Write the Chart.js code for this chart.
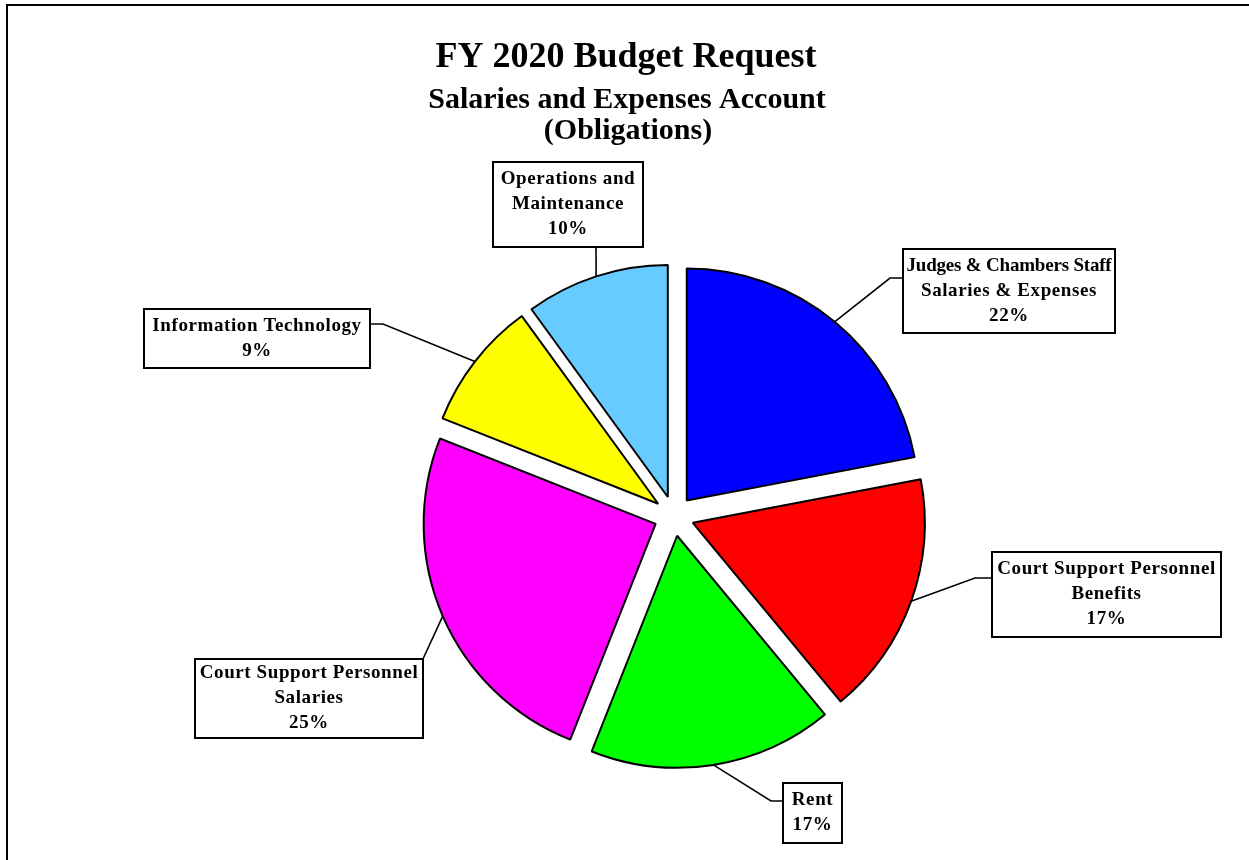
<!DOCTYPE html>
<html>
<head>
<meta charset="utf-8">
<title>FY 2020 Budget Request</title>
<script src="https://cdn.jsdelivr.net/npm/chart.js@4.4.1/dist/chart.umd.min.js"></script>
<style>
  html, body { margin: 0; padding: 0; background: #fff; }
  #wrap { width: 1249px; height: 860px; }
</style>
</head>
<body>
<div id="wrap"><canvas id="budgetChart" width="1249" height="860"></canvas></div>
<script>
// chart data
const titleLines = ["FY 2020 Budget Request", "Salaries and Expenses Account", "(Obligations)"];
const categories = [
    "Judges & Chambers Staff Salaries & Expenses",
    "Court Support Personnel Benefits",
    "Rent",
    "Court Support Personnel Salaries",
    "Information Technology",
    "Operations and Maintenance"
];
const labelLines = [
    ["Judges & Chambers Staff", "Salaries & Expenses"],
    ["Court Support Personnel", "Benefits"],
    ["Rent"],
    ["Court Support Personnel", "Salaries"],
    ["Information Technology"],
    ["Operations and", "Maintenance"]
];
const percentValues = [22, 17, 17, 25, 9, 10];
const sliceColors = ["#0000FF", "#FF0000", "#00FF00", "#FF00FF", "#FFFF00", "#66CCFF"];

// layout of the label boxes (one per slice, same order)
const labelBoxes = [
    { x: 903, y: 249, w: 212, h: 84, attach: [903, 278], elbow: [890, 278] },
    { x: 992, y: 552, w: 229, h: 85, attach: [992, 578], elbow: [975, 578] },
    { x: 783, y: 783, w: 59, h: 60, attach: [783, 801], elbow: [771, 801] },
    { x: 195, y: 659, w: 228, h: 79, attach: [423, 659], elbow: null },
    { x: 144, y: 309, w: 226, h: 59, attach: [370, 324], elbow: [383, 324] },
    { x: 493, y: 162, w: 150, h: 85, attach: [596, 247], elbow: null }
];

const SERIF = '"Liberation Serif", "Times New Roman", serif';
const EXPLODE = 20;

// move every slice out from the centre along its middle angle
const explodePlugin = {
    id: 'explode',
    beforeDatasetsDraw(chart) {
        const area = chart.chartArea;
        const cx = (area.left + area.right) / 2;
        const cy = (area.top + area.bottom) / 2;
        chart.getDatasetMeta(0).data.forEach((arc) => {
            const mid = (arc.startAngle + arc.endAngle) / 2;
            arc.x = cx + Math.cos(mid) * EXPLODE;
            arc.y = cy + Math.sin(mid) * EXPLODE;
        });
    }
};

const framePlugin = {
    id: 'frame',
    beforeDraw(chart) {
        const ctx = chart.ctx;
        ctx.save();
        ctx.fillStyle = '#fff';
        ctx.fillRect(0, 0, chart.width, chart.height);

        ctx.strokeStyle = '#000';
        ctx.lineWidth = 2;
        ctx.beginPath();
        ctx.moveTo(7, chart.height);
        ctx.lineTo(7, 5);
        ctx.lineTo(chart.width, 5);
        ctx.stroke();

        ctx.fillStyle = '#000';
        ctx.textAlign = 'center';
        ctx.textBaseline = 'alphabetic';
        ctx.font = 'bold 36px ' + SERIF;
        ctx.fillText(titleLines[0], 626, 67);
        ctx.font = 'bold 30px ' + SERIF;
        ctx.fillText(titleLines[1], 627, 108);
        ctx.fillText(titleLines[2], 628, 139);
        ctx.restore();
    }
};

const labelPlugin = {
    id: 'sliceLabels',
    afterDraw(chart) {
        const ctx = chart.ctx;
        const arcs = chart.getDatasetMeta(0).data;
        ctx.save();
        arcs.forEach((arc, i) => {
            const box = labelBoxes[i];
            const mid = (arc.startAngle + arc.endAngle) / 2;
            const ax = arc.x + Math.cos(mid) * arc.outerRadius;
            const ay = arc.y + Math.sin(mid) * arc.outerRadius;

            // leader line
            ctx.strokeStyle = '#000';
            ctx.lineWidth = 1.6;
            ctx.beginPath();
            ctx.moveTo(ax, ay);
            if (box.elbow) ctx.lineTo(box.elbow[0], box.elbow[1]);
            ctx.lineTo(box.attach[0], box.attach[1]);
            ctx.stroke();

            // box
            ctx.fillStyle = '#fff';
            ctx.fillRect(box.x, box.y, box.w, box.h);
            ctx.lineWidth = 2;
            ctx.strokeRect(box.x, box.y, box.w, box.h);

            // text, letter spacing tightened when a line is wider than the box
            const lines = labelLines[i].concat([percentValues[i] + '%']);
            const lineH = 25;
            const cx = box.x + box.w / 2;
            const cy = box.y + box.h / 2;
            ctx.fillStyle = '#000';
            ctx.textAlign = 'center';
            ctx.textBaseline = 'middle';
            ctx.font = 'bold 19px ' + SERIF;
            lines.forEach((t, j) => {
                let spacing = 0.6;
                ctx.letterSpacing = spacing + 'px';
                while (ctx.measureText(t).width > box.w - 5 && spacing > -0.8) {
                    spacing -= 0.1;
                    ctx.letterSpacing = spacing.toFixed(1) + 'px';
                }
                ctx.fillText(t, cx, cy - (lines.length - 1) * lineH / 2 + j * lineH);
            });
            ctx.letterSpacing = '0px';
        });
        ctx.restore();
    }
};

new Chart(document.getElementById('budgetChart'), {
    type: 'pie',
    data: {
        labels: categories,
        datasets: [{
            data: percentValues,
            backgroundColor: sliceColors,
            borderColor: '#000',
            borderWidth: 2,
            offset: 0,
            hoverOffset: 0
        }]
    },
    options: {
        responsive: false,
        devicePixelRatio: 1,
        animation: false,
        events: [],
        radius: 232,
        rotation: 0,
        layout: {
            padding: { left: 100, right: 1, top: 172, bottom: 0 }
        },
        plugins: {
            legend: { display: false },
            title: { display: false },
            tooltip: { enabled: false }
        }
    },
    plugins: [framePlugin, explodePlugin, labelPlugin]
});
</script>
</body>
</html>
